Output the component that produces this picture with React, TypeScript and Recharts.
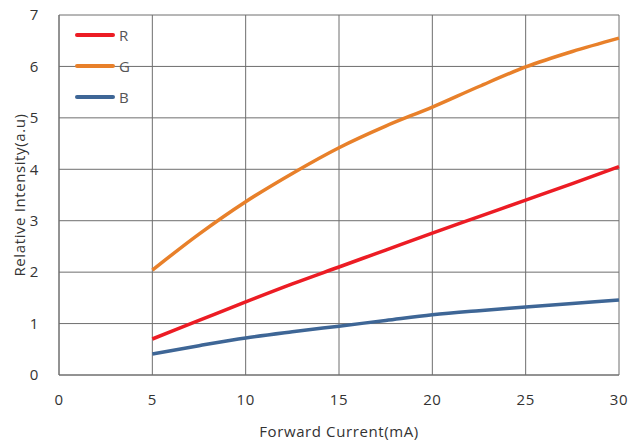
import { LineChart, Line, XAxis, YAxis, CartesianGrid, Legend } from "recharts";

const current = [5, 7.5, 10, 12.5, 15, 17.5, 20, 22.5, 25, 27.5, 30];
const red = [0.7, 1.06, 1.42, 1.77, 2.1, 2.43, 2.76, 3.08, 3.4, 3.72, 4.05];
const green = [2.04, 2.74, 3.37, 3.92, 4.42, 4.84, 5.21, 5.61, 5.99, 6.29, 6.55];
const blue = [0.41, 0.57, 0.72, 0.84, 0.95, 1.06, 1.17, 1.25, 1.32, 1.39, 1.46];

const xTicks = [0, 5, 10, 15, 20, 25, 30];
const yTicks = [0, 1, 2, 3, 4, 5, 6, 7];

const SERIES = [
  { key: "R", color: "#ec1c24" },
  { key: "G", color: "#e8802a" },
  { key: "B", color: "#3e6696" },
];

const data = current.map((c, i) => ({ current: c, R: red[i], G: green[i], B: blue[i] }));

const FONT = "'Open Sans', 'Noto Sans', sans-serif";
const textStyle = { fill: "#333", fontSize: 15, fontFamily: FONT, letterSpacing: 0.6 };

function LegendBox() {
  return (
    <div style={{ fontFamily: FONT, fontSize: 15, color: "#555" }}>
      {SERIES.map((s) => (
        <div key={s.key} style={{ display: "flex", alignItems: "center", height: 31 }}>
          <div style={{ width: 40, height: 4, background: s.color, borderRadius: 2 }} />
          <span style={{ marginLeft: 4 }}>{s.key}</span>
        </div>
      ))}
    </div>
  );
}

export default function App() {
  return (
    <div style={{ position: "absolute", left: 0, top: 0, background: "#fff" }}>
      <LineChart width={644} height={440} data={data} margin={{ top: 15, right: 25, bottom: 0, left: 0 }}>
        <CartesianGrid stroke="#6e6e6e" strokeWidth={1} />
        <XAxis
          dataKey="current"
          type="number"
          domain={[0, 30]}
          ticks={xTicks}
          height={65}
          tickLine={false}
          axisLine={{ stroke: "#6e6e6e" }}
          tickMargin={13}
          tick={textStyle}
          label={{
            value: "Forward Current(mA)",
            position: "insideBottom",
            offset: 3,
            style: textStyle,
          }}
        />
        <YAxis
          type="number"
          domain={[0, 7]}
          ticks={yTicks}
          width={59}
          tickLine={false}
          axisLine={{ stroke: "#6e6e6e" }}
          tickMargin={14}
          tick={textStyle}
          label={{
            value: "Relative Intensity(a.u)",
            angle: -90,
            position: "insideLeft",
            offset: 20,
            style: { ...textStyle, textAnchor: "middle" },
          }}
        />
        <Legend
          layout="vertical"
          verticalAlign="middle"
          align="center"
          content={<LegendBox />}
          wrapperStyle={{ left: 75, top: 19, width: "auto" }}
        />
        {SERIES.map((s) => (
          <Line
            key={s.key}
            dataKey={s.key}
            type="monotone"
            stroke={s.color}
            strokeWidth={3.5}
            dot={false}
            isAnimationActive={false}
          />
        ))}
      </LineChart>
    </div>
  );
}
